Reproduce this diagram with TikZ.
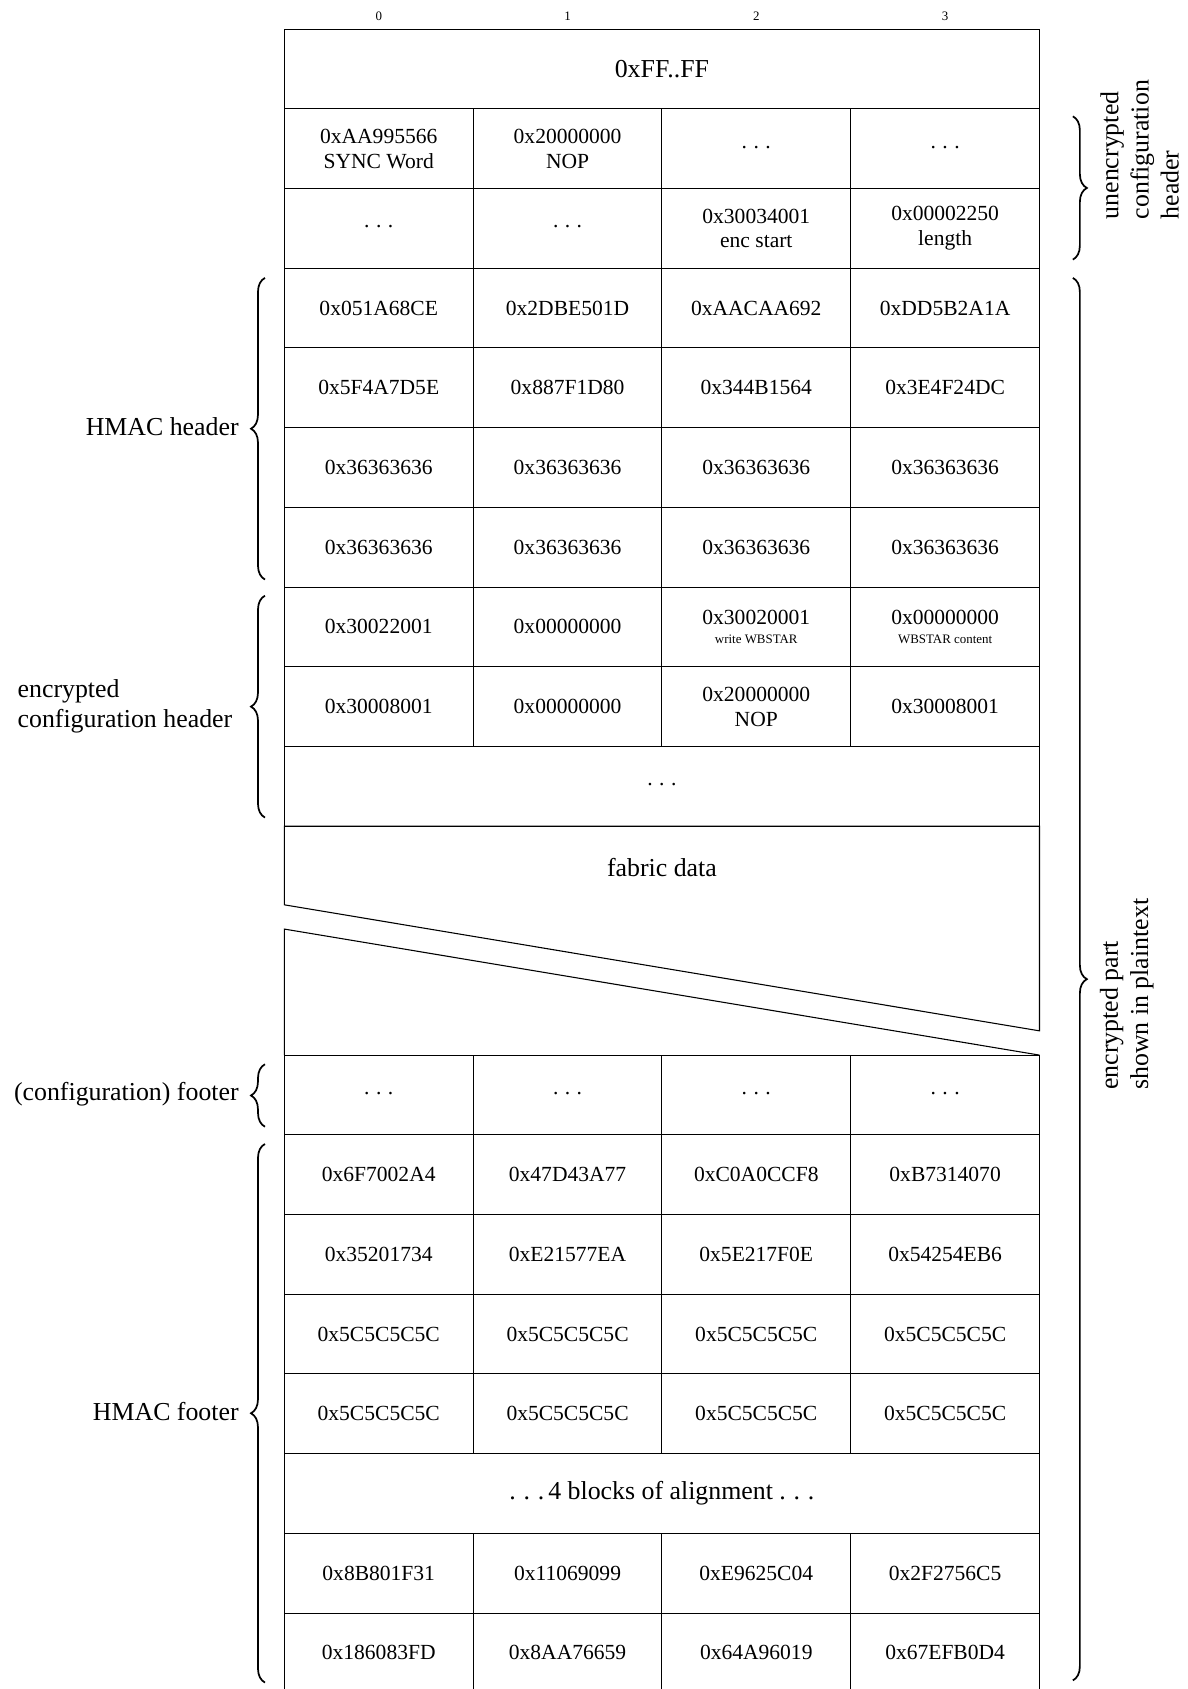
\documentclass[tikz,border=0pt]{standalone}
\usepackage{fontspec}
\setmainfont{Liberation Serif}
\usetikzlibrary{decorations.pathreplacing}
\newcommand\smalltxt[1]{{\fontsize{6}{7}\selectfont #1}}
\newcommand\spdots{.\kern0.3em.\kern0.3em.}
\newcommand\cdts{\raisebox{1.5pt}{\spdots}}
\begin{document}
\begin{tikzpicture}[x=0.5pt,y=-0.5pt,
  cell/.style={draw, line width=0.5pt, minimum width=87.625pt, minimum height=37pt, inner sep=0pt, align=center, font=\fontsize{10}{11.5}\selectfont},
  wide/.style={cell, minimum width=350.5pt, font=\fontsize{12}{14}\selectfont},
  colnum/.style={font=\fontsize{6}{7}\selectfont, inner sep=0pt},
  side/.style={font=\fontsize{12}{14}\selectfont, inner sep=0pt, align=left},
  bracemark/.style={decorate, decoration={brace, amplitude=6.5pt}, line width=0.8pt},
  breakline/.style={line width=0.5pt}
]
\clip (0,0) rectangle (1102,1568);

% column numbers
\node[colnum] (n0) at (351.6,15) {0};
\node[colnum] (n1) at (526.9,15) {1};
\node[colnum] (n2) at (702.1,15) {2};
\node[colnum] (n3) at (877.4,15) {3};

% row 0
\node[wide] (r0) at (614.5,64) {0xFF..FF};
% row 1
\node[cell] (r1c0) at (351.6,138) {0xAA995566\\SYNC Word};
\node[cell] (r1c1) at (526.9,138) {0x20000000\\NOP};
\node[cell] (r1c2) at (702.1,138) {\cdts};
\node[cell] (r1c3) at (877.4,138) {\cdts};
% row 2
\node[cell] (r2c0) at (351.6,212) {\cdts};
\node[cell] (r2c1) at (526.9,212) {\cdts};
\node[cell] (r2c2) at (702.1,212) {0x30034001\\enc start};
\node[cell] (r2c3) at (877.4,212) {0x00002250\\length};
% HMAC header
\node[cell] (r3c0) at (351.6,286) {0x051A68CE};
\node[cell] (r3c1) at (526.9,286) {0x2DBE501D};
\node[cell] (r3c2) at (702.1,286) {0xAACAA692};
\node[cell] (r3c3) at (877.4,286) {0xDD5B2A1A};
\node[cell] (r4c0) at (351.6,360) {0x5F4A7D5E};
\node[cell] (r4c1) at (526.9,360) {0x887F1D80};
\node[cell] (r4c2) at (702.1,360) {0x344B1564};
\node[cell] (r4c3) at (877.4,360) {0x3E4F24DC};
\node[cell] (r5c0) at (351.6,434) {0x36363636};
\node[cell] (r5c1) at (526.9,434) {0x36363636};
\node[cell] (r5c2) at (702.1,434) {0x36363636};
\node[cell] (r5c3) at (877.4,434) {0x36363636};
\node[cell] (r6c0) at (351.6,508) {0x36363636};
\node[cell] (r6c1) at (526.9,508) {0x36363636};
\node[cell] (r6c2) at (702.1,508) {0x36363636};
\node[cell] (r6c3) at (877.4,508) {0x36363636};
% encrypted configuration header
\node[cell] (r7c0) at (351.6,582) {0x30022001};
\node[cell] (r7c1) at (526.9,582) {0x00000000};
\node[cell] (r7c2) at (702.1,582) {0x30020001\\[-3pt]\smalltxt{write WBSTAR}};
\node[cell] (r7c3) at (877.4,582) {0x00000000\\[-3pt]\smalltxt{WBSTAR content}};
\node[cell] (r8c0) at (351.6,656) {0x30008001};
\node[cell] (r8c1) at (526.9,656) {0x00000000};
\node[cell] (r8c2) at (702.1,656) {0x20000000\\NOP};
\node[cell] (r8c3) at (877.4,656) {0x30008001};
\node[wide, font=\fontsize{10}{11.5}\selectfont] (r9) at (614.5,730) {\cdts};

% fabric data with break
\draw[breakline] (264,840) -- (264,767) -- (965,767) -- (965,957) -- cycle;
\draw[breakline] (264,979.5) -- (264,862.5) -- (965,979.5);
\node[font=\fontsize{12}{14}\selectfont, inner sep=0pt] (fabric) at (614.5,805) {fabric data};

% footer
\node[cell] (r10c0) at (351.6,1016.5) {\cdts};
\node[cell] (r10c1) at (526.9,1016.5) {\cdts};
\node[cell] (r10c2) at (702.1,1016.5) {\cdts};
\node[cell] (r10c3) at (877.4,1016.5) {\cdts};
% HMAC footer
\node[cell] (r11c0) at (351.6,1090.5) {0x6F7002A4};
\node[cell] (r11c1) at (526.9,1090.5) {0x47D43A77};
\node[cell] (r11c2) at (702.1,1090.5) {0xC0A0CCF8};
\node[cell] (r11c3) at (877.4,1090.5) {0xB7314070};
\node[cell] (r12c0) at (351.6,1164.5) {0x35201734};
\node[cell] (r12c1) at (526.9,1164.5) {0xE21577EA};
\node[cell] (r12c2) at (702.1,1164.5) {0x5E217F0E};
\node[cell] (r12c3) at (877.4,1164.5) {0x54254EB6};
\node[cell] (r13c0) at (351.6,1238.5) {0x5C5C5C5C};
\node[cell] (r13c1) at (526.9,1238.5) {0x5C5C5C5C};
\node[cell] (r13c2) at (702.1,1238.5) {0x5C5C5C5C};
\node[cell] (r13c3) at (877.4,1238.5) {0x5C5C5C5C};
\node[cell] (r14c0) at (351.6,1312.5) {0x5C5C5C5C};
\node[cell] (r14c1) at (526.9,1312.5) {0x5C5C5C5C};
\node[cell] (r14c2) at (702.1,1312.5) {0x5C5C5C5C};
\node[cell] (r14c3) at (877.4,1312.5) {0x5C5C5C5C};
\node[wide] (r15) at (614.5,1386.5) {\spdots\kern0.15em4 blocks of alignment \spdots};
\node[cell] (r16c0) at (351.6,1460.5) {0x8B801F31};
\node[cell] (r16c1) at (526.9,1460.5) {0x11069099};
\node[cell] (r16c2) at (702.1,1460.5) {0xE9625C04};
\node[cell] (r16c3) at (877.4,1460.5) {0x2F2756C5};
\node[cell] (r17c0) at (351.6,1534.5) {0x186083FD};
\node[cell] (r17c1) at (526.9,1534.5) {0x8AA76659};
\node[cell] (r17c2) at (702.1,1534.5) {0x64A96019};
\node[cell] (r17c3) at (877.4,1534.5) {0x67EFB0D4};

% left braces and labels
\draw[bracemark] (246,538) -- (246,258);
\node[side, anchor=east] (lhmach) at (222,396) {HMAC header};
\draw[bracemark] (246,759) -- (246,553);
\node[side, anchor=east] (lench) at (216,656) {encrypted\\configuration header};
\draw[bracemark] (246,1046) -- (246,988);
\node[side, anchor=east] (lfoot) at (222,1016) {(configuration) footer};
\draw[bracemark] (246,1562) -- (246,1062);
\node[side, anchor=east] (lhmacf) at (222,1310) {HMAC footer};

% right braces and labels
\draw[bracemark] (996,108) -- (996,241);
\node[side, rotate=90, anchor=west] (runenc) at (1058,204) {unencrypted\\configuration\\header};
\draw[bracemark] (996,258) -- (996,1560);
\node[side, rotate=90, anchor=west] (renc) at (1046,1012) {encrypted part\\shown in plaintext};
\end{tikzpicture}
\end{document}
